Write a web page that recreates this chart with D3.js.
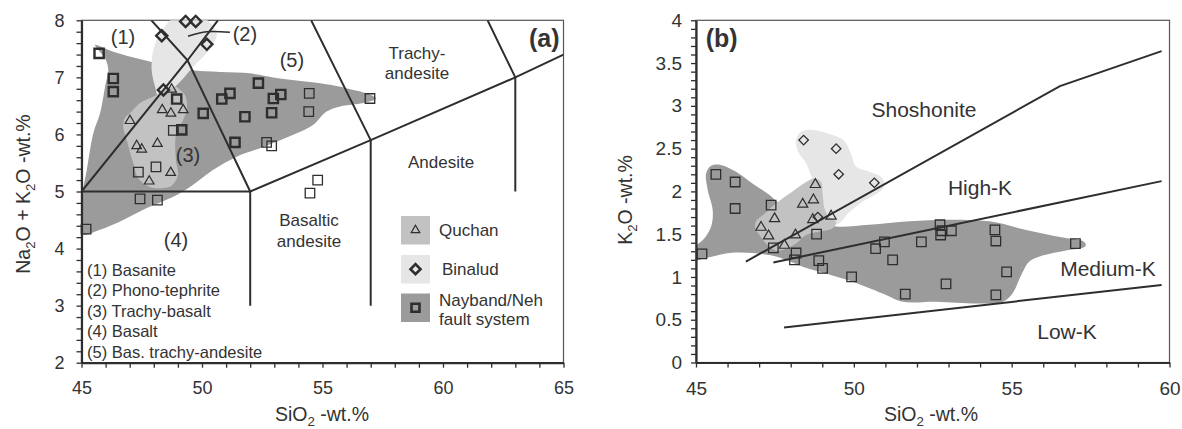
<!DOCTYPE html>
<html>
<head>
<meta charset="utf-8">
<script src="https://cdn.jsdelivr.net/npm/d3@7"></script>
<style>
  html, body { margin: 0; padding: 0; background: #fff; }
  svg { display: block; font-family: "Liberation Sans", Arial, sans-serif; }
</style>
</head>
<body>
<svg id="chart" width="1182" height="429"></svg>
<script>
// ---------------- DATA ----------------
// Panel (a): TAS diagram (SiO2 vs Na2O+K2O)
const tasQuchan = [[48.74,6.79],[48.35,6.43],[48.71,6.37],[49.22,6.43],[47.01,6.24],[47.29,5.80],[47.50,5.74],[48.15,5.84],[47.81,5.18],[48.70,5.33]];
const tasBinalud = [[49.32,7.98],[49.74,7.98],[48.33,7.73],[50.20,7.58],[48.40,6.78]];
const tasNaybandA = [[45.73,7.42],[46.32,6.98],[46.32,6.75],[48.95,6.62],[50.05,6.37],[50.82,6.62],[51.16,6.72],[52.34,6.90],[51.78,6.31],[52.89,6.38],[52.96,6.63],[53.27,6.70],[51.37,5.86],[49.16,6.08]];
const tasNaybandB = [[48.81,6.07],[52.68,5.86],[52.89,5.80],[48.09,5.43],[47.36,5.34],[47.43,4.87],[48.15,4.85],[56.97,6.63],[54.45,6.72],[54.43,6.40],[54.80,5.20],[54.48,4.97],[45.19,4.34]];

const tasFieldNayband = [[45.56,7.57],[46.32,7.45],[47.91,7.27],[49.50,7.13],[51.99,7.07],[53.24,6.98],[55.31,6.87],[56.28,6.78],[56.83,6.72],[57.22,6.63],[56.69,6.55],[55.73,6.49],[55.17,6.40],[54.62,6.17],[53.93,6.02],[53.24,5.90],[52.41,5.76],[51.44,5.61],[50.47,5.38],[49.50,5.08],[48.81,4.91],[47.71,4.71],[46.73,4.50],[45.77,4.33],[45.0,4.25],[44.9,4.6],[45.22,5.38],[45.49,6.02],[45.77,6.37],[45.98,6.84],[46.11,7.13],[45.98,7.33],[45.70,7.48]];
const tasFieldQuchan = [[48.88,6.84],[49.09,6.78],[49.29,6.69],[49.38,6.46],[49.21,6.25],[48.92,5.99],[48.92,5.55],[49.00,5.29],[48.76,5.11],[48.39,5.06],[47.84,5.08],[47.36,5.23],[47.15,5.49],[46.88,5.90],[46.73,6.14],[46.80,6.29],[47.01,6.37],[47.43,6.55],[48.12,6.69],[48.54,6.81]];
const tasFieldBinalud = [[49.09,8.05],[50.05,8.05],[50.61,7.77],[50.47,7.60],[50.05,7.36],[49.64,7.19],[49.22,6.98],[48.81,6.81],[48.39,6.69],[48.20,6.64],[48.05,6.84],[47.91,7.13],[47.98,7.48],[48.19,7.71],[48.46,7.89],[48.74,8.02]];

// TAS classification boundaries
const tasBoundaries = [
  [[45,5],[52,5]],
  [[45,5],[49.4,7.3],[50.66,8]],
  [[47.9,8],[49.4,7.3],[52,5]],
  [[52,3],[52,5],[57,5.9],[63,7],[65,7.4]],
  [[57,3],[57,5.9],[54.53,8]],
  [[63,5],[63,7],[61.85,8]]
];
const tasLeader = [[49.42,7.72],[50.2,7.80],[51.16,7.79]];

const tasXTicks = d3.range(45, 66, 1);
const tasYTicks = d3.range(10, 41).map(d => d / 5);
const tasXLabels = [45, 50, 55, 60, 65];
const tasYLabels = [2, 3, 4, 5, 6, 7, 8];

const tasFieldNames = ["(1) Basanite", "(2) Phono-tephrite", "(3) Trachy-basalt", "(4) Basalt", "(5) Bas. trachy-andesite"];
const legendNames = ["Quchan", "Binalud", "Nayband/Neh", "fault system"];

// Panel (b): SiO2 vs K2O
const k2oQuchan = [[48.78,2.08],[48.72,1.90],[48.38,1.85],[47.49,1.68],[48.70,1.67],[49.28,1.71],[47.06,1.58],[47.30,1.48],[48.15,1.49],[47.80,1.37]];
const k2oBinalud = [[48.41,2.60],[49.44,2.50],[49.52,2.20],[50.65,2.10],[48.86,1.70]];
const k2oNayband = [[45.63,2.20],[46.24,2.11],[46.24,1.80],[47.38,1.84],[45.19,1.27],[47.45,1.34],[48.82,1.50],[48.17,1.28],[48.12,1.20],[48.89,1.19],[49.01,1.10],[49.93,1.00],[50.69,1.33],[50.97,1.41],[51.23,1.20],[51.63,0.80],[52.14,1.41],[52.73,1.61],[52.75,1.49],[52.79,1.54],[53.09,1.54],[52.92,0.92],[54.47,1.55],[54.50,1.42],[54.84,1.06],[54.50,0.79],[57.02,1.39]];

const k2oFieldNayband = [[44.95,1.335],[45.26,1.45],[45.48,1.59],[45.53,1.78],[45.37,2.02],[45.32,2.21],[45.48,2.30],[45.79,2.31],[46.27,2.23],[46.80,2.09],[47.32,1.96],[47.75,1.82],[48.49,1.66],[49.44,1.59],[50.49,1.61],[51.76,1.65],[53.03,1.67],[54.29,1.65],[55.46,1.55],[56.62,1.46],[57.30,1.41],[57.34,1.36],[56.72,1.31],[55.98,1.25],[55.56,1.18],[55.30,1.02],[55.03,0.81],[54.72,0.71],[53.98,0.69],[52.60,0.71],[51.55,0.71],[51.02,0.79],[50.07,0.93],[49.12,1.04],[48.38,1.12],[47.85,1.20],[47.53,1.24],[46.80,1.28],[46.06,1.28],[45.42,1.23],[44.95,1.20]];
const k2oFieldQuchan = [[46.90,1.65],[47.11,1.72],[47.53,1.86],[48.06,2.00],[48.49,2.11],[48.75,2.15],[48.96,2.11],[49.01,1.98],[49.07,1.80],[49.22,1.70],[49.44,1.64],[49.33,1.57],[48.91,1.53],[48.49,1.49],[48.17,1.39],[47.85,1.33],[47.53,1.31],[47.22,1.39],[47.01,1.49],[46.88,1.57]];
const k2oFieldBinalud = [[48.17,2.60],[48.27,2.68],[48.59,2.72],[49.22,2.67],[49.70,2.59],[49.91,2.44],[50.07,2.29],[50.49,2.23],[50.86,2.17],[50.97,2.07],[50.76,1.98],[50.28,1.88],[49.86,1.76],[49.49,1.62],[49.22,1.64],[48.96,1.78],[48.80,2.05],[48.64,2.19],[48.49,2.33],[48.27,2.44],[48.17,2.54]];

const k2oBoundaries = [
  [[46.58,1.18],[56.53,3.23],[59.75,3.64]],
  [[47.45,1.17],[59.75,2.12]],
  [[47.79,0.41],[59.75,0.906]]
];
const k2oSeriesNames = ["Shoshonite", "High-K", "Medium-K", "Low-K"];

const k2oXTicks = d3.range(45, 61, 1);
const k2oYTicks = d3.range(0, 41).map(d => d / 10);
const k2oXLabels = [45, 50, 55, 60];
const k2oYLabels = [0, 0.5, 1, 1.5, 2, 2.5, 3, 3.5, 4];

// ---------------- STYLE ----------------
const C_DARK = "#9b9b9b", C_MED = "#c2c2c2", C_LIGHT = "#e6e6e6";
const INK = "#2e2e2e", TXT = "#333";

const svg = d3.select("#chart");

function panel(opts) {
  const { x, y, xTicks, yTicks, xLabels, yLabels, xPad, yPad, fontSize, fmtY, id } = opts;
  const g = svg.append("g");
  const [x0, x1] = x.range(), [y0, y1] = y.range();
  g.append("clipPath").attr("id", id).append("rect")
    .attr("x", x0).attr("y", y1).attr("width", x1 - x0).attr("height", y0 - y1);
  // frame
  g.append("rect").attr("x", x0).attr("y", y1).attr("width", x1 - x0).attr("height", y0 - y1)
    .attr("fill", "none").attr("stroke", "#555").attr("stroke-width", 1.2);
  const plot = g.append("g").attr("clip-path", `url(#${id})`);
  // axes
  const ax = g.append("g").attr("transform", `translate(0,${y0})`)
    .call(d3.axisBottom(x).tickValues(xTicks).tickSize(5).tickSizeOuter(0).tickPadding(xPad)
      .tickFormat(d => xLabels.includes(d) ? d : ""));
  const ay = g.append("g").attr("transform", `translate(${x0},0)`)
    .call(d3.axisLeft(y).tickValues(yTicks).tickSize(5).tickSizeOuter(0).tickPadding(yPad)
      .tickFormat(d => yLabels.some(v => Math.abs(v - d) < 1e-9) ? fmtY(d) : ""));
  [ax, ay].forEach(a => {
    a.select(".domain").attr("stroke", INK).attr("stroke-width", 2.2);
    a.selectAll(".tick line").attr("stroke", INK).attr("stroke-width", 1.3);
    a.selectAll(".tick text").attr("fill", TXT).attr("font-size", fontSize)
      .attr("font-family", '"Liberation Sans", Arial, sans-serif');
  });
  return { g, plot };
}

function drawField(layer, pts, x, y, color) {
  layer.append("path")
    .attr("d", d3.line().x(d => x(d[0])).y(d => y(d[1])).curve(d3.curveCatmullRomClosed.alpha(0.5))(pts))
    .attr("fill", color).attr("stroke", "none");
}
function drawLines(layer, segs, x, y, w) {
  segs.forEach(s => layer.append("path")
    .attr("d", d3.line().x(d => x(d[0])).y(d => y(d[1])).curve(d3.curveLinear)(s))
    .attr("fill", "none").attr("stroke", INK).attr("stroke-width", w));
}
function sym(type, size) { return d3.symbol().type(type).size(size)(); }
function drawPoints(layer, pts, x, y, kind, size, sw) {
  const rot = kind === "diamond" ? 45 : 0;
  const type = kind === "triangle" ? d3.symbolTriangle : d3.symbolSquare;
  layer.selectAll(null).data(pts).enter().append("path")
    .attr("d", sym(type, size))
    .attr("transform", d => `translate(${x(d[0])},${y(d[1])}) rotate(${rot})`)
    .attr("fill", "none").attr("stroke", INK).attr("stroke-width", sw);
}
function label(layer, txt, px, py, size, anchor, weight) {
  return layer.append("text").attr("x", px).attr("y", py).attr("dy", "0.35em")
    .attr("text-anchor", anchor || "middle").attr("font-size", size)
    .attr("font-weight", weight || "normal").attr("fill", TXT).text(txt);
}
function subTitle(parent, parts, size) {
  const t = parent.append("text").attr("font-size", size).attr("fill", TXT).attr("text-anchor", "middle");
  parts.forEach(p => {
    if (p.sub) t.append("tspan").attr("font-size", size * 0.68).attr("dy", size * 0.25).text(p.t);
    else t.append("tspan").attr("dy", p.after ? -size * 0.25 : 0).text(p.t);
  });
  return t;
}

// ---------------- PANEL A ----------------
const xA = d3.scaleLinear().domain([45, 65]).range([81.5, 563.5]);
const yA = d3.scaleLinear().domain([2, 8]).range([362.7, 20.3]);
const A = panel({ x: xA, y: yA, xTicks: tasXTicks, yTicks: tasYTicks, xLabels: tasXLabels, yLabels: tasYLabels,
  xPad: 14, yPad: 12, fontSize: 18, fmtY: d => d, id: "clipA" });
drawField(A.plot, tasFieldNayband, xA, yA, C_DARK);
drawField(A.plot, tasFieldBinalud, xA, yA, C_LIGHT);
drawField(A.plot, tasFieldQuchan, xA, yA, C_MED);
drawLines(A.plot, tasBoundaries, xA, yA, 2);
A.plot.append("path").attr("d", d3.line().x(d => xA(d[0])).y(d => yA(d[1])).curve(d3.curveNatural)(tasLeader))
  .attr("fill", "none").attr("stroke", INK).attr("stroke-width", 1.6);
drawPoints(A.g, tasQuchan, xA, yA, "triangle", 40, 1.2);
drawPoints(A.g, tasNaybandB, xA, yA, "square", 90, 1.3);
drawPoints(A.g, tasNaybandA, xA, yA, "square", 85, 2.4);
drawPoints(A.g, tasBinalud, xA, yA, "diamond", 62, 2.4);

// region labels
label(A.g, "(1)", xA(46.72), yA(7.71), 20);
label(A.g, "(2)", xA(51.78), yA(7.76), 20);
label(A.g, "(5)", xA(53.73), yA(7.30), 20);
label(A.g, "(3)", xA(49.42), yA(5.64), 20);
label(A.g, "(4)", xA(48.92), yA(4.15), 20);
label(A.g, "Trachy-", xA(58.92), yA(7.43), 17);
label(A.g, "andesite", xA(58.92), yA(7.08), 17);
label(A.g, "Andesite", xA(59.92), yA(5.52), 17);
label(A.g, "Basaltic", xA(54.44), yA(4.50), 17);
label(A.g, "andesite", xA(54.44), yA(4.13), 17);
label(A.g, "(a)", xA(64.2), yA(7.68), 25, "middle", "bold");
tasFieldNames.forEach((n, i) => label(A.g, n, 87, 270 + i * 20.5, 16.5, "start"));

// legend
const legA = A.g.append("g");
[[C_MED, "triangle", 216], [C_LIGHT, "diamond", 255], [C_DARK, "square", 293.5]].forEach(([c, k, ty]) => {
  legA.append("rect").attr("x", 401).attr("y", ty).attr("width", 29).attr("height", 28.5).attr("fill", c);
  const cx = 415.5, cy = ty + 14.2;
  if (k === "triangle") legA.append("path").attr("d", sym(d3.symbolTriangle, 32)).attr("transform", `translate(${cx},${cy})`)
    .attr("fill", "none").attr("stroke", INK).attr("stroke-width", 1.2);
  if (k === "diamond") legA.append("path").attr("d", sym(d3.symbolSquare, 50)).attr("transform", `translate(${cx},${cy}) rotate(45)`)
    .attr("fill", "none").attr("stroke", INK).attr("stroke-width", 2.6);
  if (k === "square") legA.append("path").attr("d", sym(d3.symbolSquare, 64)).attr("transform", `translate(${cx},${cy})`)
    .attr("fill", "none").attr("stroke", INK).attr("stroke-width", 2.6);
});
label(legA, legendNames[0], 439, 230, 17, "start");
label(legA, legendNames[1], 442, 269, 17, "start");
label(legA, legendNames[2], 439, 300, 17, "start");
label(legA, legendNames[3], 439, 319, 17, "start");

// axis titles A
subTitle(svg, [{ t: "SiO" }, { t: "2", sub: true }, { t: " -wt.%", after: true }], 19.5)
  .attr("transform", "translate(322,421)");
subTitle(svg, [{ t: "Na" }, { t: "2", sub: true }, { t: "O + K", after: true }, { t: "2", sub: true }, { t: "O -wt.%", after: true }], 19.5)
  .attr("transform", "translate(30,194) rotate(-90)");

// ---------------- PANEL B ----------------
const xB = d3.scaleLinear().domain([45, 60]).range([696, 1169.5]);
const yB = d3.scaleLinear().domain([0, 4]).range([362.5, 20.3]);
const B = panel({ x: xB, y: yB, xTicks: k2oXTicks, yTicks: k2oYTicks, xLabels: k2oXLabels, yLabels: k2oYLabels,
  xPad: 14, yPad: 9, fontSize: 19, fmtY: d => d, id: "clipB" });
drawField(B.plot, k2oFieldNayband, xB, yB, C_DARK);
drawField(B.plot, k2oFieldBinalud, xB, yB, C_LIGHT);
drawField(B.plot, k2oFieldQuchan, xB, yB, C_MED);
drawLines(B.plot, k2oBoundaries, xB, yB, 2);
drawPoints(B.g, k2oNayband, xB, yB, "square", 90, 1.3);
drawPoints(B.g, k2oQuchan, xB, yB, "triangle", 45, 1.2);
drawPoints(B.g, k2oBinalud, xB, yB, "diamond", 45, 1.3);

label(B.g, "(b)", 721.7, 38, 25, "middle", "bold");
label(B.g, k2oSeriesNames[0], 924, 110, 21);
label(B.g, k2oSeriesNames[1], 980, 188, 21);
label(B.g, k2oSeriesNames[2], 1108, 269, 21);
label(B.g, k2oSeriesNames[3], 1067, 332, 21);

subTitle(svg, [{ t: "SiO" }, { t: "2", sub: true }, { t: " -wt.%", after: true }], 19.5)
  .attr("transform", "translate(931,421)");
subTitle(svg, [{ t: "K" }, { t: "2", sub: true }, { t: "O -wt.%", after: true }], 19.5)
  .attr("transform", "translate(632,200) rotate(-90)");
</script>
</body>
</html>
